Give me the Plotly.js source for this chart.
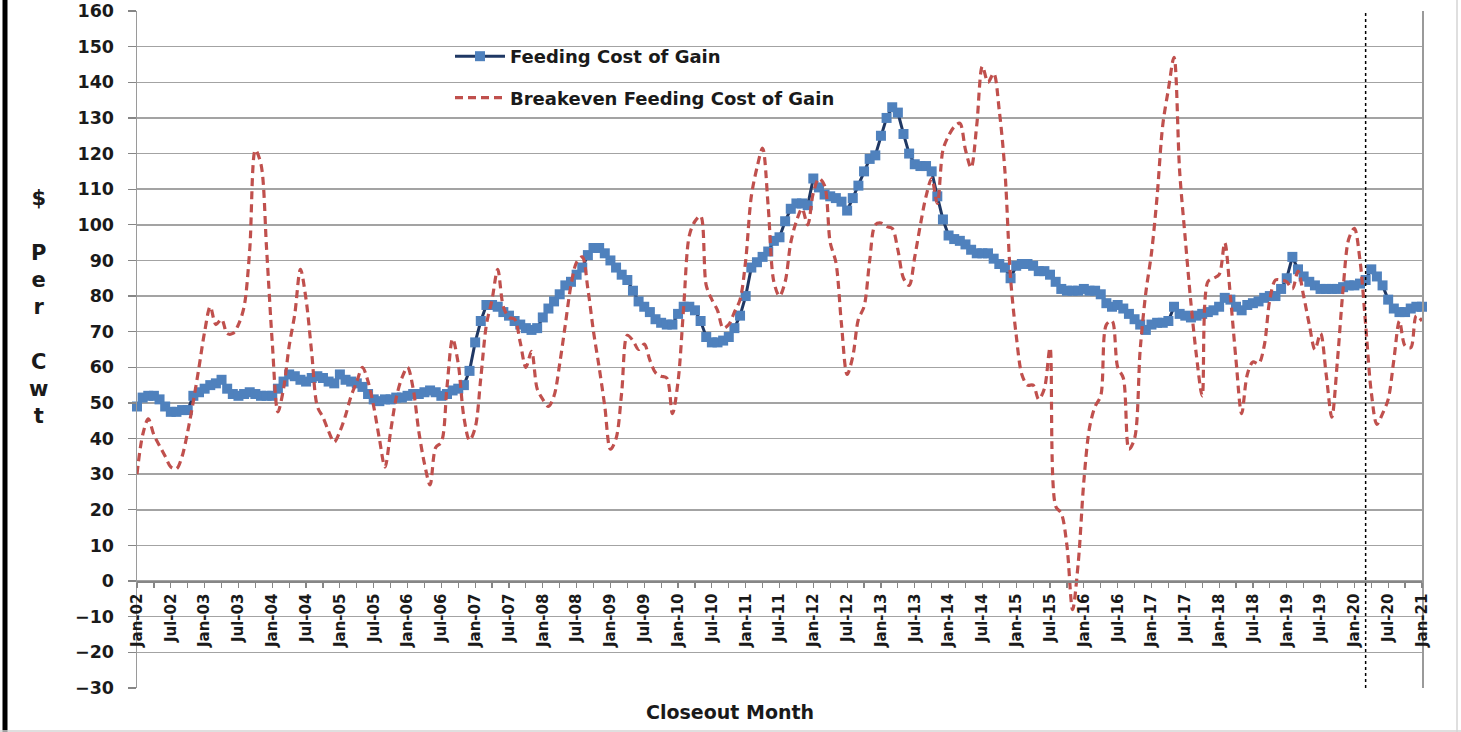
<!DOCTYPE html>
<html>
<head>
<meta charset="utf-8">
<script src="https://cdn.plot.ly/plotly-3.0.1.min.js"></script>
<style>
  html, body { margin: 0; padding: 0; background: #ffffff; }
  #chart { width: 1461px; height: 732px; }
</style>
</head>
<body>
<div id="chart"></div>
<script>
// ---- categories ----
const monthNames = ["Jan","Feb","Mar","Apr","May","Jun","Jul","Aug","Sep","Oct","Nov","Dec"];
const firstYear = 2002;
const lastYear = 2021;
const closeoutMonths = [];
for (let y = firstYear; y <= lastYear; y++) {
  for (let m = 0; m < 12; m++) {
    if (y === lastYear && m > 0) break;
    closeoutMonths.push(monthNames[m] + "-" + String(y).slice(2));
  }
}

// ---- series values ($ per cwt) ----
const feedingCostOfGain = [
  49, 51.5, 52, 52, 51, 49, 47.5, 47.5, 48, 48, 52, 53,
  54, 55, 55.5, 56.5, 54, 52.5, 52, 52.5, 53, 52.5, 52, 52,
  52, 54, 56, 58, 57.5, 56.5, 56, 57, 57.5, 57, 56, 55.5,
  58, 56.5, 56, 55.5, 54.5, 52.5, 51, 50.5, 51, 51, 51.5, 51.5,
  52, 52.5, 52.5, 53, 53.5, 53, 52, 52.5, 53.5, 54, 55, 59,
  67, 73, 77.5, 77.5, 77, 75.5, 74.5, 73, 72, 71, 70.5, 71,
  74, 76.5, 78.5, 80.5, 83, 84, 86, 88, 91.5, 93.5, 93.5, 92,
  90, 88, 86, 84.5, 81.5, 78.5, 77, 75.5, 73.5, 72.5, 72, 72,
  75, 77, 77, 76, 73, 68.5, 67, 67, 67.5, 68.5, 71, 74.5,
  80, 88, 89.5, 91, 92.5, 95.5, 96.5, 101, 104.5, 106, 106, 105.5,
  113, 110.5, 108.5, 108, 107.5, 106.5, 104, 107.5, 111, 115, 118.5, 119.5,
  125, 130, 133, 131.5, 125.5, 120, 117, 116.5, 116.5, 115, 108, 101.5,
  97, 96, 95.5, 94.5, 93, 92, 92, 92, 90.5, 89, 88, 85,
  88.5, 89, 89, 88.5, 87, 87, 86, 84, 82, 81.5, 81.5, 81.5,
  82, 81.5, 81.5, 80.5, 78, 77, 77.5, 76.5, 75, 73.5, 72, 70.5,
  72, 72.5, 72.5, 73, 77, 75, 74.5, 74, 74.5, 75, 75.5, 76,
  77, 79.5, 79, 77, 76, 77.5, 78, 78.5, 79.5, 80, 80, 82,
  85, 91, 87.5, 85.5, 84, 83, 82, 82, 82, 82, 82.5, 83,
  83, 83.5, 84.5, 87.5, 85.5, 83, 79, 76.5, 75.5, 75.5, 76.5, 77,
  77
];

const breakevenFeedingCostOfGain = [
  30, 41, 45.5, 41, 38, 35, 32, 31.5, 35, 42, 50.5, 60,
  70, 77, 72, 73.5, 69.5, 69.5, 72, 77, 93, 121, 117, 93,
  67, 47.5, 54, 66, 75, 87.5, 79, 64, 49, 46, 42, 39,
  42, 46.5, 52, 56, 60, 56, 49, 40, 32, 42, 51.5, 57,
  60, 54, 42, 33, 27, 37.5, 39, 54.5, 68, 61, 46, 39.5,
  43, 57, 72, 79, 87.5, 77, 74, 73.5, 67, 60, 64.5, 54,
  51, 49, 52, 61, 72, 83, 89.5, 91, 82, 70, 60, 49,
  37, 40, 53, 69, 67.5, 65, 66.5, 62, 58.5, 57.5, 57, 47,
  56, 77, 97, 101, 102.5, 83, 79, 76, 71, 72, 75.5, 79,
  90, 108, 116, 121.5, 105, 84, 80, 84, 95, 101, 104.5, 100,
  109, 113, 111, 95, 89.5, 72, 58, 63, 73.5, 77, 90, 100,
  100.5, 99.5, 99, 93, 85, 83, 91, 100, 108, 113, 106, 121,
  125, 127.5, 128.5, 121, 116, 128, 144.5, 140, 142.5, 132, 115, 85,
  69, 58, 55, 55, 51, 54, 65.5, 21, 19, 10, -8, 5,
  28, 43, 49, 52, 72, 73, 60, 57, 37, 40, 65, 81,
  92, 108, 128, 138, 147, 115, 96, 78, 63, 52, 84, 85,
  86, 95, 80, 62, 47, 58, 61.5, 61, 66, 79, 84.5, 84.5,
  84, 82, 87, 80, 72, 65, 69.5, 58, 46, 62, 82, 96,
  99, 90, 72, 53, 44, 47, 51, 62, 73, 66, 65.5, 74.5,
  73
];

// ---- axis ticks ----
const yTickValues = [-30,-20,-10,0,10,20,30,40,50,60,70,80,90,100,110,120,130,140,150,160];
const xTickMonths = closeoutMonths.filter((_, i) => i % 3 === 0);
const xTickText = xTickMonths.map(m => (m.startsWith("Jan") || m.startsWith("Jul")) ? m : "");
const xTickIndex = closeoutMonths.map((_, i) => i).filter(i => i % 3 === 0);
const markerMonth = "Mar-20";

const seriesNames = ["Feeding Cost of Gain", "Breakeven Feeding Cost of Gain"];

// ---- layout geometry ----
const W = 1461, H = 732;
const M = { l: 137, r: 39, t: 11, b: 44 };
const pw = W - M.l - M.r, ph = H - M.t - M.b;
const px2x = px => (px - M.l) / pw;
const px2y = py => (H - M.b - py) / ph;
const yMin = -30, yMax = 160;
const yRange = [yMin - 0.02, yMax + 0.02];
const zeroPos = (0 - yRange[0]) / (yRange[1] - yRange[0]);

const FONT = "DejaVu Sans";
const txt = "#1a1a1a";

const traces = [
  {
    type: "scatter", mode: "lines+markers",
    name: seriesNames[0], legendgroup: "a",
    x: closeoutMonths, y: feedingCostOfGain,
    line: { color: "#1F3864", width: 3 },
    marker: { symbol: "square", size: 10, color: "#4F81BD" },
    cliponaxis: false
  },
  {
    type: "scatter", mode: "lines",
    name: seriesNames[1], legendgroup: "b",
    x: closeoutMonths, y: breakevenFeedingCostOfGain,
    line: { color: "#C0504D", width: 3.2, dash: "8px,5px", shape: "spline", smoothing: 0.9 }
  }
];

const layout = {
  width: W, height: H,
  margin: M,
  paper_bgcolor: "#ffffff", plot_bgcolor: "#ffffff",
  showlegend: true,
  legend: {
    x: px2x(450), y: px2y(38), xanchor: "left", yanchor: "top",
    bgcolor: "rgba(0,0,0,0)", borderwidth: 0,
    font: { family: FONT, size: 18, weight: "bold", color: txt },
    tracegroupgap: 15, itemwidth: 50
  },
  xaxis: {
    type: "category", range: [0, closeoutMonths.length - 1],
    anchor: "free", position: zeroPos,
    tickmode: "array", tickvals: xTickMonths, ticktext: xTickText,
    tickangle: -90, ticks: "outside", ticklen: 5, tickwidth: 1.2, tickcolor: "#868686",
    showline: true, linecolor: "#868686", linewidth: 1.5,
    showgrid: false, zeroline: false, ticklabeloverflow: "allow",
    tickfont: { family: FONT, size: 15, weight: "bold", color: txt }
  },
  xaxis2: {
    overlaying: "x", anchor: "free", position: zeroPos,
    range: [0, closeoutMonths.length - 1],
    tickmode: "array", tickvals: xTickIndex, ticks: "inside", ticklen: 5,
    tickwidth: 1.2, tickcolor: "#868686",
    showticklabels: false, showline: false, showgrid: false, zeroline: false
  },
  xaxis3: {
    overlaying: "x", anchor: "y", range: [0, closeoutMonths.length - 1],
    showline: true, mirror: true, linecolor: "#7f7f7f", linewidth: 2,
    ticks: "", showticklabels: false, showgrid: false, zeroline: false
  },
  yaxis: {
    range: yRange, tickmode: "array", tickvals: yTickValues,
    ticks: "outside", ticklen: 8, tickcolor: "#868686", tickwidth: 1.2,
    ticklabelstandoff: 10, ticklabeloverflow: "allow",
    showline: true, mirror: true, linecolor: "#9a9a9a", linewidth: 1.5,
    showgrid: true, gridcolor: "#a3a3a3", gridwidth: 1.5, zeroline: false,
    tickfont: { family: FONT, size: 17.5, weight: "bold", color: txt }
  },
  shapes: [
    { type: "line", xref: "x", yref: "paper", x0: markerMonth, x1: markerMonth, y0: 0, y1: 1,
      line: { color: "#000000", width: 1.5, dash: "dot" } },
    { type: "line", xref: "paper", yref: "paper", x0: px2x(5), x1: px2x(5), y0: px2y(H + 2), y1: px2y(-2),
      line: { color: "#000000", width: 5 } },
    { type: "line", xref: "paper", yref: "paper", x0: px2x(1457), x1: px2x(1457), y0: px2y(H), y1: px2y(0),
      line: { color: "#d4d4d4", width: 1.5 } },
    { type: "line", xref: "paper", yref: "paper", x0: px2x(0), x1: px2x(W), y0: px2y(731), y1: px2y(731),
      line: { color: "#d4d4d4", width: 1.5 } }
  ],
  annotations: [
    { text: "Closeout Month", xref: "paper", yref: "paper", x: px2x(730), y: px2y(712),
      xanchor: "center", yanchor: "middle", showarrow: false,
      font: { family: FONT, size: 19, weight: "bold", color: txt } },
    { text: "$<br><br>P<br>e<br>r<br><br>C<br>w<br>t", xref: "paper", yref: "paper",
      x: px2x(39), y: px2y(307), xanchor: "center", yanchor: "middle", align: "center",
      showarrow: false, font: { family: FONT, size: 21, weight: "bold", color: txt } }
  ]
};

Plotly.newPlot("chart", traces, layout, { displayModeBar: false, staticPlot: true });
</script>
</body>
</html>
